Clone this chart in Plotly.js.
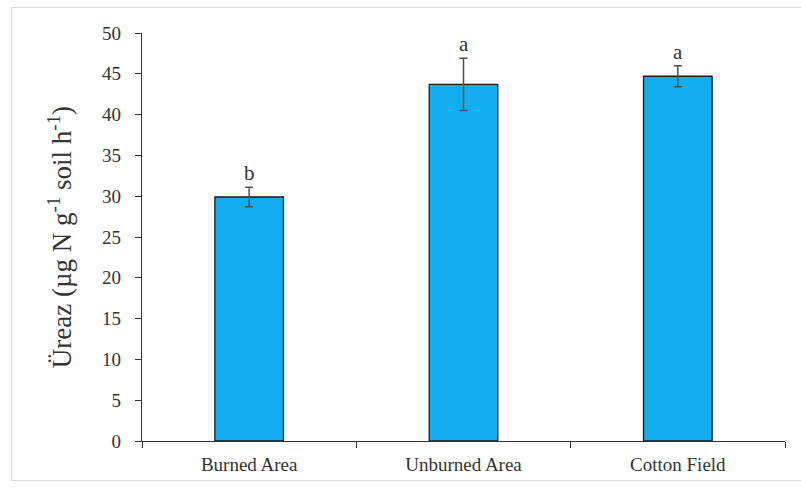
<!DOCTYPE html>
<html>
<head>
<meta charset="utf-8">
<script src="https://cdn.plot.ly/plotly-3.0.1.min.js"></script>
<style>
html,body{margin:0;padding:0;background:#fff;}
#wrap{position:relative;width:801px;height:488px;}
#chart{width:801px;height:488px;}
#frame{position:absolute;left:11px;top:7px;width:800px;height:472px;border:1px solid #d9d9d9;pointer-events:none;}
</style>
</head>
<body>
<div id="wrap"><div id="chart"></div><div id="frame"></div></div>
<script>
const categories = ['Burned Area', 'Unburned Area', 'Cotton Field'];
const ureaseMeans = [29.9, 43.7, 44.7];
const ureaseErrors = [1.2, 3.2, 1.3];
const groupLetters = ['b', 'a', 'a'];
const yTickValues = [0, 5, 10, 15, 20, 25, 30, 35, 40, 45, 50];

const trace = {
  type: 'bar',
  x: categories,
  y: ureaseMeans,
  width: 0.32,
  marker: {color: '#12AEEF', line: {color: '#1a1a1a', width: 1.3}},
  error_y: {type: 'data', array: ureaseErrors, visible: true, color: '#505050', thickness: 1.5, width: 4}
};

const annotations = categories.map((c, i) => ({
  x: c, y: ureaseMeans[i] + ureaseErrors[i], xref: 'x', yref: 'y',
  text: groupLetters[i], showarrow: false, yanchor: 'bottom', yshift: 0,
  font: {family: 'Liberation Serif, Times New Roman, serif', size: 21, color: '#333333'}
}));

const layout = {
  width: 801, height: 488,
  margin: {l: 142, r: 16, t: 33, b: 47},
  paper_bgcolor: '#fff', plot_bgcolor: '#fff',
  showlegend: false,
  font: {family: 'Liberation Serif, Times New Roman, serif', size: 19, color: '#333333'},
  xaxis: {
    type: 'category', showline: true, linecolor: '#333333', linewidth: 1.3,
    ticks: 'outside', tickson: 'boundaries', ticklen: 6, tickcolor: '#333333',
    tickfont: {size: 19, color: '#333333'}, showgrid: false, zeroline: false,
    ticklabelstandoff: 6
  },
  yaxis: {
    range: [0, 50], tickvals: yTickValues, showline: true, linecolor: '#333333', linewidth: 1.3,
    ticks: 'outside', ticklen: 6, tickcolor: '#333333', showgrid: false, zeroline: false,
    tickfont: {size: 19, color: '#333333'}, ticklabelstandoff: 10,
    title: {text: 'Üreaz (µg N g<sup>-1</sup> soil h<sup>-1</sup>)', standoff: 22,
            font: {size: 27, color: '#333333'}}
  },
  annotations: annotations
};

Plotly.newPlot('chart', [trace], layout, {displayModeBar: false, staticPlot: true});
</script>
</body>
</html>
